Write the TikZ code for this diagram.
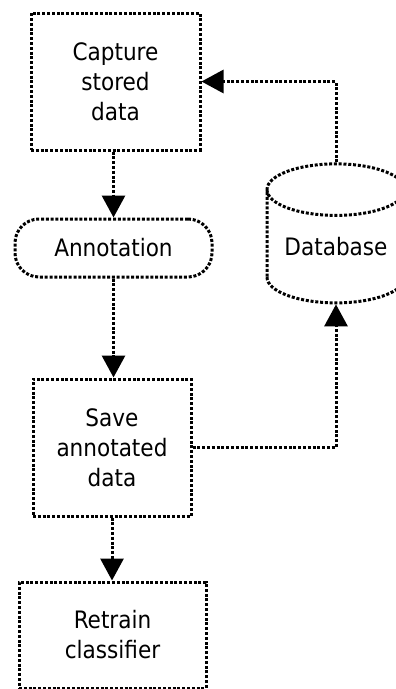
\documentclass[tikz,border=0pt]{standalone}
\usepackage{fontspec}
\setmainfont{DejaVu Sans Condensed}
\usepackage{tikz}
\usetikzlibrary{arrows.meta,shapes.geometric}
\begin{document}
\begin{tikzpicture}[x=1pt,y=-1pt,>={Triangle[width=23pt,length=22pt]},
dotline/.style={line width=3pt,dash pattern=on 3pt off 1.8pt},
procbox/.style={draw,dotline,align=center,inner sep=0pt},
flowarrow/.style={dotline,->}]
\fontsize{24}{30}\selectfont
\useasboundingbox (0,0) rectangle (396,689);
\node (capture) at (115.5,81.5) [procbox,minimum width=169pt,minimum height=137pt] {Capture\\stored\\data};
\node (annot) at (113.5,248) [procbox,rounded corners=24pt,minimum width=197pt,minimum height=58pt] {Annotation};
\node (save) at (112,447.5) [procbox,minimum width=158pt,minimum height=137pt] {Save\\annotated\\data};
\node (retrain) at (112.5,635) [procbox,minimum width=187pt,minimum height=106pt] {Retrain\\classifier};
\node (db) at (336,247) [cylinder,shape border rotate=90,draw,dotline,minimum width=138pt,minimum height=139pt,aspect=0.5,inner sep=0pt] {Database};
\draw [flowarrow] (capture.south -| annot.north) -- (annot.north);
\draw [flowarrow] (annot.south) -- (annot.south |- save.north);
\draw [flowarrow] (save.south) -- (save.south |- retrain.north);
\draw [flowarrow] (save.east) -| (db.south);
\draw [flowarrow] (db.north) |- (capture.east);
\end{tikzpicture}
\end{document}
